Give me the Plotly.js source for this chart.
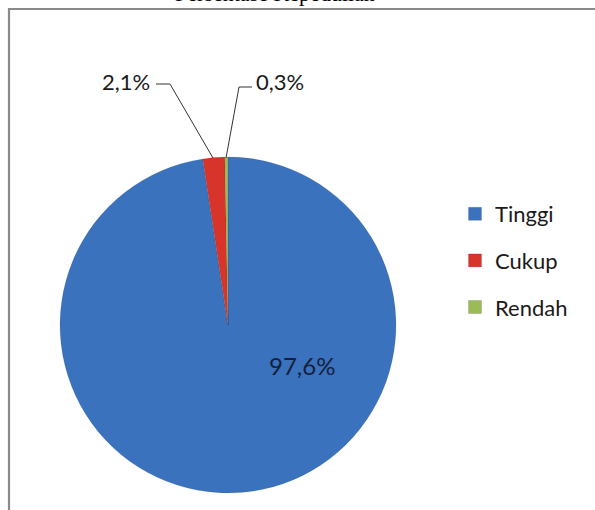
<!DOCTYPE html>
<html>
<head>
<meta charset="utf-8">
<script src="https://cdn.plot.ly/plotly-3.0.1.min.js"></script>
<style>html,body{margin:0;padding:0;background:#fff;}#chart{width:595px;height:510px;}</style>
</head>
<body>
<div id="chart"></div>
<script>
const categories = ['Tinggi', 'Cukup', 'Rendah'];
const values = [97.6, 2.1, 0.3];
const colors = ['#3A72BD', '#D7352B', '#9BBB59'];
const chartTitle = 'Persentase Kepedulian';

const W = 595, H = 510;
const px = x => x / W;
const py = y => 1 - y / H;
const fmt = v => v.toFixed(1).replace('.', ',') + '%';

const pie = {
  type: 'pie',
  labels: categories,
  values: values,
  sort: false,
  direction: 'clockwise',
  rotation: 0,
  marker: {colors: colors, line: {color: 'rgba(0,0,0,0.15)', width: 0.6}},
  textinfo: 'none',
  hoverinfo: 'label+percent',
  showlegend: false,
  domain: {x: [px(60), px(396)], y: [py(493), py(157)]}
};

const legendTraces = categories.map((c, i) => ({
  type: 'scatter', mode: 'markers',
  x: [null], y: [null],
  name: c,
  legendgroup: 'g' + i,
  marker: {symbol: 'square', size: 13, color: colors[i], line: {color: 'rgba(0,0,0,0.25)', width: 0.5}},
  showlegend: true
}));

const labelPos = [[302, 365], [126, 81], [280, 81]];
const annotations = categories.map((c, i) => ({
  xref: 'paper', yref: 'paper',
  x: px(labelPos[i][0]), y: py(labelPos[i][1]),
  text: fmt(values[i]), showarrow: false,
  font: {family: 'Lato, sans-serif', size: i === 0 ? 24 : 22, color: i === 0 ? '#13213D' : '#1a1a1a'},
  xanchor: 'center', yanchor: 'middle'
}));

const shapes = [
  {type: 'rect', xref: 'paper', yref: 'paper', x0: px(9), x1: px(640), y0: py(560), y1: py(9),
   line: {color: '#8a8a8a', width: 2.2}, fillcolor: 'rgba(0,0,0,0)', layer: 'below'},
  {type: 'path', xref: 'paper', yref: 'paper',
   path: `M ${px(156)} ${py(84)} L ${px(170)} ${py(84)} L ${px(213)} ${py(158)}`,
   line: {color: '#333', width: 1}},
  {type: 'path', xref: 'paper', yref: 'paper',
   path: `M ${px(252)} ${py(87)} L ${px(239)} ${py(87)} L ${px(226)} ${py(158)}`,
   line: {color: '#333', width: 1}}
];

const layout = {
  width: W, height: H,
  margin: {l: 0, r: 0, t: 0, b: 0},
  paper_bgcolor: '#fff', plot_bgcolor: '#fff',
  separators: ',.',
  title: {text: chartTitle, x: px(275), xanchor: 'center', xref: 'paper', yref: 'paper', y: py(1), yanchor: 'bottom',
          font: {family: 'Liberation Serif, serif', size: 22, color: '#000'}, automargin: false},
  xaxis: {visible: false, showgrid: false, zeroline: false},
  yaxis: {visible: false, showgrid: false, zeroline: false},
  showlegend: true,
  legend: {x: px(455), y: py(193), xanchor: 'left', yanchor: 'top', tracegroupgap: 15,
           font: {family: 'Lato, sans-serif', size: 22, color: '#1a1a1a'}, bgcolor: 'rgba(0,0,0,0)'},
  annotations: annotations,
  shapes: shapes
};

Plotly.newPlot('chart', [pie].concat(legendTraces), layout, {displayModeBar: false, staticPlot: true});
</script>
</body>
</html>
